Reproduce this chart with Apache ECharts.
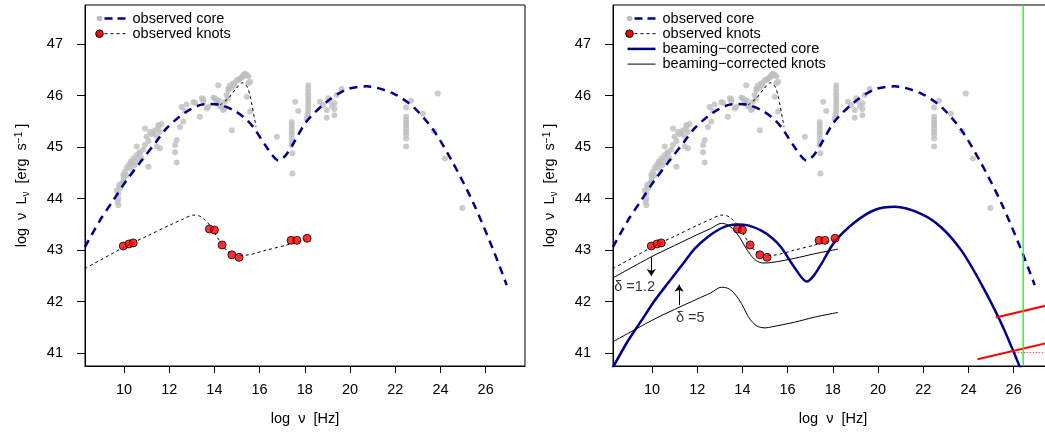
<!DOCTYPE html>
<html>
<head>
<meta charset="utf-8">
<script src="https://cdn.jsdelivr.net/npm/echarts@6/dist/echarts.min.js"></script>
<style>
  html, body { margin: 0; padding: 0; background: #fff; }
  #main { width: 1045px; height: 440px; }
</style>
</head>
<body>
<div id="main"></div>
<script>
// axis extents and tick labels
var xMin = 8.275, xMax = 27.74;
var yMin = 40.75, yMax = 47.76;
var xTicks = [10, 12, 14, 16, 18, 20, 22, 24, 26];
var yTicks = [41, 42, 43, 44, 45, 46, 47];

// observed core data points (log nu, log nuLnu)
var coreObs = [
  [9.68,44.16],[9.72,43.93],[9.75,43.87],[9.75,44.0],[9.75,44.1],[9.78,44.26],[9.82,44.2],[9.9,44.3],
  [9.97,44.33],[9.97,44.46],[10.0,44.4],[10.04,44.52],[10.1,44.45],[10.12,44.6],[10.19,44.65],[10.27,44.59],
  [10.3,44.72],[10.34,44.68],[10.41,44.78],[10.45,44.65],[10.49,44.71],[10.56,44.84],[10.56,45.01],[10.63,44.78],
  [10.68,44.9],[10.71,44.88],[10.78,44.78],[10.85,44.95],[10.93,45.04],[10.93,45.36],[11.0,45.2],[11.08,44.62],
  [11.08,45.12],[11.15,45.3],[11.22,45.25],[11.3,45.27],[11.37,45.33],[11.45,45.01],[11.45,45.2],[11.52,45.43],
  [11.52,45.39],[11.59,45.3],[11.59,44.98],[11.65,45.45],
  [12.26,45.04],[12.26,44.9],[12.33,45.14],[12.33,44.7],[12.48,45.39],[12.62,45.5],[12.55,45.78],[12.77,45.83],
  [12.7,45.7],[13.14,45.86],[13.07,45.87],[13.36,45.59],[13.44,45.95],[13.51,45.88],[13.51,45.93],[13.66,45.75],
  [13.73,45.78],
  [13.95,45.96],[14.03,45.95],[14.1,45.85],[14.1,45.91],[14.17,46.2],[14.2,45.9],[14.25,45.8],[14.32,45.78],
  [14.39,45.72],[14.45,45.75],[14.47,45.88],[14.54,46.01],[14.6,45.95],[14.62,46.11],[14.62,46.14],[14.69,46.2],
  [14.77,45.33],[14.75,46.15],[14.84,46.24],[14.9,46.2],[14.99,46.3],[15.06,46.3],[15.13,46.33],[15.2,46.35],
  [15.28,46.38],[15.28,46.4],[15.35,46.43],[15.43,46.4],[15.5,46.37],[15.5,46.24],[15.43,45.98],[15.58,46.27],
  [15.58,45.69],
  [16.76,45.2],
  [17.42,45.49],[17.42,45.42],[17.42,45.36],[17.42,45.3],[17.42,45.24],[17.42,45.17],[17.42,45.1],[17.42,45.04],
  [17.45,44.88],[17.45,44.49],[17.57,45.88],[17.71,45.7],
  [18.15,46.2],[18.15,46.13],[18.15,46.06],[18.15,46.0],[18.15,45.94],[18.15,45.88],[18.15,45.82],[18.15,45.76],
  [18.15,45.7],[18.12,45.64],[18.08,45.56],
  [18.67,45.88],[18.8,45.82],[18.97,45.72],[18.97,45.57],[19.04,45.95],[19.1,45.9],[19.2,45.8],[19.31,45.85],
  [19.31,45.74],[19.31,45.62],[19.41,46.01],[19.63,46.13],
  [22.48,45.77],[22.48,45.59],[22.48,45.53],[22.48,45.47],[22.48,45.42],[22.48,45.36],[22.48,45.3],[22.48,45.24],
  [22.48,45.17],[22.48,45.01],[22.7,45.9],
  [23.22,45.65],[23.72,45.31],[23.88,46.04],[24.2,44.78],[24.97,43.82]
];

// observed knots data points
var knotsObs = [
  [9.97,43.08],[10.22,43.12],[10.41,43.14],[13.78,43.41],[14.0,43.39],[14.34,43.1],
  [14.77,42.91],[15.09,42.86],[17.39,43.19],[17.65,43.19],[18.1,43.23]
];

// model curves
var coreModel = [
  [8.27,43.06],[8.94,43.58],[9.53,43.97],[10.12,44.36],[10.71,44.7],[11.45,45.12],[11.89,45.37],[12.48,45.6],
  [13.0,45.75],[13.4,45.82],[13.8,45.84],[14.25,45.82],[14.84,45.72],[15.3,45.58],[15.72,45.39],[16.31,45.0],
  [16.85,44.74],[17.15,44.84],[17.49,45.07],[18.08,45.5],[18.97,45.88],[19.85,46.12],[20.74,46.18],
  [21.92,46.04],[22.8,45.78],[23.69,45.33],[24.57,44.68],[25.46,43.91],[26.34,43.0],[26.93,42.32]
];
var knotsBump = [
  [14.25,45.82],[14.62,45.95],[14.95,46.13],[15.24,46.25],[15.45,46.17],[15.6,45.95],[15.84,45.39]
];
var knotsModel = [
  [8.27,42.64],[9.97,43.05],[11.0,43.27],[12.0,43.48],[12.6,43.6],[13.07,43.68],[13.35,43.66],
  [13.6,43.58],[13.85,43.45],[14.1,43.27],[14.41,43.06],[14.7,42.94],[15.0,42.9],[15.3,42.9],[16.3,43.0],
  [17.2,43.1],[18.1,43.21]
];
var coreCorrected = [
  [7.9,40.4],[8.27,40.72],[8.94,41.24],[9.53,41.63],[10.12,42.02],[10.71,42.36],[11.45,42.78],[11.89,43.03],
  [12.48,43.26],[13.0,43.41],[13.4,43.48],[13.8,43.5],[14.25,43.48],[14.84,43.38],[15.3,43.24],[15.72,43.05],
  [16.31,42.66],[16.85,42.39],[17.15,42.5],[17.49,42.73],[18.08,43.16],[18.97,43.54],[19.85,43.78],[20.74,43.84],
  [21.92,43.7],[22.8,43.44],[23.69,42.99],[24.57,42.34],[25.46,41.57],[26.34,40.66],[26.6,40.35]
];
var knotsDelta12 = [
  [8.27,42.46],[9.97,42.87],[11.0,43.09],[12.0,43.3],[12.6,43.42],[13.07,43.52],[13.35,43.49],
  [13.6,43.4],[13.89,43.24],[14.1,43.08],[14.34,42.92],[14.6,42.8],[14.9,42.75],[15.3,42.76],[16.3,42.84],
  [17.2,42.93],[18.23,43.02]
];
var knotsDelta5 = [
  [8.27,41.22],[9.97,41.63],[11.0,41.85],[12.0,42.05],[12.6,42.17],[13.07,42.28],[13.35,42.26],
  [13.6,42.18],[13.85,42.04],[14.06,41.88],[14.3,41.68],[14.63,41.53],[15.0,41.49],[15.3,41.51],[16.3,41.6],
  [17.2,41.7],[18.23,41.79]
];
var arrows = [
  [[9.97,42.86],[9.97,42.5]],
  [[11.2,41.93],[11.2,42.33]]
];
var deltaLabels = [
  { name: "δ =1.2", value: [8.33,42.29] },
  { name: "δ =5", value: [11.06,41.69] }
];
var redLine1 = [[25.21,41.69],[27.5,41.93]];
var redLine2 = [[24.4,40.88],[27.5,41.2]];
var redDotted = [[26.05,41.01],[27.5,41.01]];
var greenLineX = 26.42;

var fontFam = '"Liberation Sans", Arial, sans-serif';
var navy = "#00008B";

function makeX(i) {
  return {
    gridIndex: i, type: "value", min: xMin, max: xMax,
    axisLine: { show: true, lineStyle: { color: "#000", width: 1 } },
    splitLine: { show: false },
    axisTick: { show: true, customValues: xTicks, length: 7, inside: false, lineStyle: { color: "#000" } },
    axisLabel: { customValues: xTicks, margin: 16, color: "#000", fontSize: 14.5, fontFamily: fontFam },
    name: "log  ν  [Hz]", nameLocation: "middle", nameGap: 45,
    nameTextStyle: { color: "#000", fontSize: 14.5, fontFamily: fontFam }
  };
}
function makeY(i) {
  return {
    gridIndex: i, type: "value", min: yMin, max: yMax,
    axisLine: { show: true, lineStyle: { color: "#000", width: 1 } },
    splitLine: { show: false },
    axisTick: { show: true, customValues: yTicks, length: 8, lineStyle: { color: "#000" } },
    axisLabel: { customValues: yTicks, margin: 22, color: "#000", fontSize: 14.5, fontFamily: fontFam },
    name: "{a|log  ν  L}{b|ν}{a|  [erg  s}{c|−1}{a| ]}",
    nameLocation: "middle", nameGap: 52, nameRotate: 90,
    nameTextStyle: {
      color: "#000", fontFamily: fontFam,
      rich: {
        a: { fontSize: 14.5, fontFamily: fontFam, color: "#000", lineHeight: 22, verticalAlign: "middle" },
        b: { fontSize: 10, fontFamily: fontFam, color: "#000", lineHeight: 22, verticalAlign: "bottom", padding: [0, 0, 2, 0] },
        c: { fontSize: 10, fontFamily: fontFam, color: "#000", lineHeight: 22, verticalAlign: "top", padding: [3, 0, 0, 0] }
      }
    }
  };
}

function lineSeries(i, data, color, width, type, z) {
  return {
    type: "line", xAxisIndex: i, yAxisIndex: i, data: data,
    symbol: "none", smooth: 0.3, silent: true, z: z || 3,
    lineStyle: { color: color, width: width, type: type }
  };
}

function observedSeries(i) {
  return [
    {
      type: "scatter", xAxisIndex: i, yAxisIndex: i, data: coreObs, symbolSize: 6, z: 1,
      itemStyle: { color: "#BEBEBE" }, silent: true
    },
    lineSeries(i, coreModel, navy, 2.5, [8, 6], 3),
    lineSeries(i, knotsBump, "#000", 1, [3, 3], 3),
    lineSeries(i, knotsModel, "#000", 1, [3, 3], 3),
    {
      type: "scatter", xAxisIndex: i, yAxisIndex: i, data: knotsObs, symbolSize: 8, z: 5,
      itemStyle: { color: "#FF0000", borderColor: "#000", borderWidth: 1 }, silent: true
    }
  ];
}

function legendGraphics(x0, rows) {
  var g = [];
  rows.forEach(function (r, k) {
    var y = 18.5 + k * 15.2;
    if (r.dot) {
      g.push({ type: "circle", shape: { cx: x0, cy: y, r: r.dot.r }, style: r.dot.style, z: 10 });
      g.push({ type: "line", shape: { x1: x0 + 5, y1: y, x2: x0 + 27, y2: y }, style: r.line, z: 9 });
    } else {
      g.push({ type: "line", shape: { x1: x0 - 2, y1: y, x2: x0 + 26, y2: y }, style: r.line, z: 9 });
    }
    g.push({
      type: "text", x: x0 + 33, y: y, z: 10,
      style: { text: r.text, fill: "#000", font: "14.5px " + fontFam, textVerticalAlign: "middle" }
    });
  });
  return g;
}

var rowCore = { dot: { r: 2.8, style: { fill: "#BEBEBE" } }, line: { stroke: navy, lineWidth: 2.5, lineDash: [8, 5] }, text: "observed core" };
var rowKnots = { dot: { r: 3.8, style: { fill: "#FF0000", stroke: "#000", lineWidth: 1 } }, line: { stroke: "#000", lineWidth: 1, lineDash: [3, 3] }, text: "observed knots" };

var chart = echarts.init(document.getElementById("main"), null, { renderer: "canvas" });
chart.setOption({
  animation: false,
  backgroundColor: "#fff",
  grid: [
    { left: 85, top: 5, width: 440, height: 361, show: true, borderColor: "#000", borderWidth: 1, backgroundColor: "transparent", outerBoundsMode: "none" },
    { left: 613, top: 5, width: 440, height: 361, show: true, borderColor: "#000", borderWidth: 1, backgroundColor: "transparent", outerBoundsMode: "none" }
  ],
  xAxis: [makeX(0), makeX(1)],
  yAxis: [makeY(0), makeY(1)],
  graphic: legendGraphics(99.5, [rowCore, rowKnots]).concat(
    legendGraphics(629.5, [
      rowCore, rowKnots,
      { line: { stroke: navy, lineWidth: 2.5 }, text: "beaming−corrected core" },
      { line: { stroke: "#000", lineWidth: 1 }, text: "beaming−corrected knots" }
    ])
  ),
  series: observedSeries(0).concat(observedSeries(1)).concat([
    lineSeries(1, coreCorrected, navy, 2.5, "solid", 4),
    lineSeries(1, knotsDelta12, "#000", 1, "solid", 4),
    lineSeries(1, knotsDelta5, "#000", 1, "solid", 4),
    {
      type: "lines", coordinateSystem: "cartesian2d", xAxisIndex: 1, yAxisIndex: 1,
      data: arrows.map(function (a) { return { coords: a }; }),
      symbol: ["none", "arrow"], symbolSize: 7, silent: true, z: 4,
      lineStyle: { color: "#000", width: 1, opacity: 1, curveness: 0 }
    },
    {
      type: "scatter", xAxisIndex: 1, yAxisIndex: 1, data: deltaLabels, symbolSize: 0, silent: true, z: 6,
      label: {
        show: true, position: "right", distance: 0, formatter: "{b}",
        color: "#000", fontSize: 14.5, fontFamily: fontFam
      }
    },
    lineSeries(1, redLine1, "#FF0000", 2, "solid", 4),
    lineSeries(1, redLine2, "#FF0000", 2, "solid", 4),
    {
      type: "line", xAxisIndex: 1, yAxisIndex: 1, data: redDotted, symbol: "none", silent: true, z: 4,
      lineStyle: { color: "#FF0000", width: 1, type: [1, 2] }
    },
    lineSeries(1, [[greenLineX, yMin], [greenLineX, yMax]], "#00FF00", 1.3, "solid", 4)
  ])
});
</script>
</body>
</html>
